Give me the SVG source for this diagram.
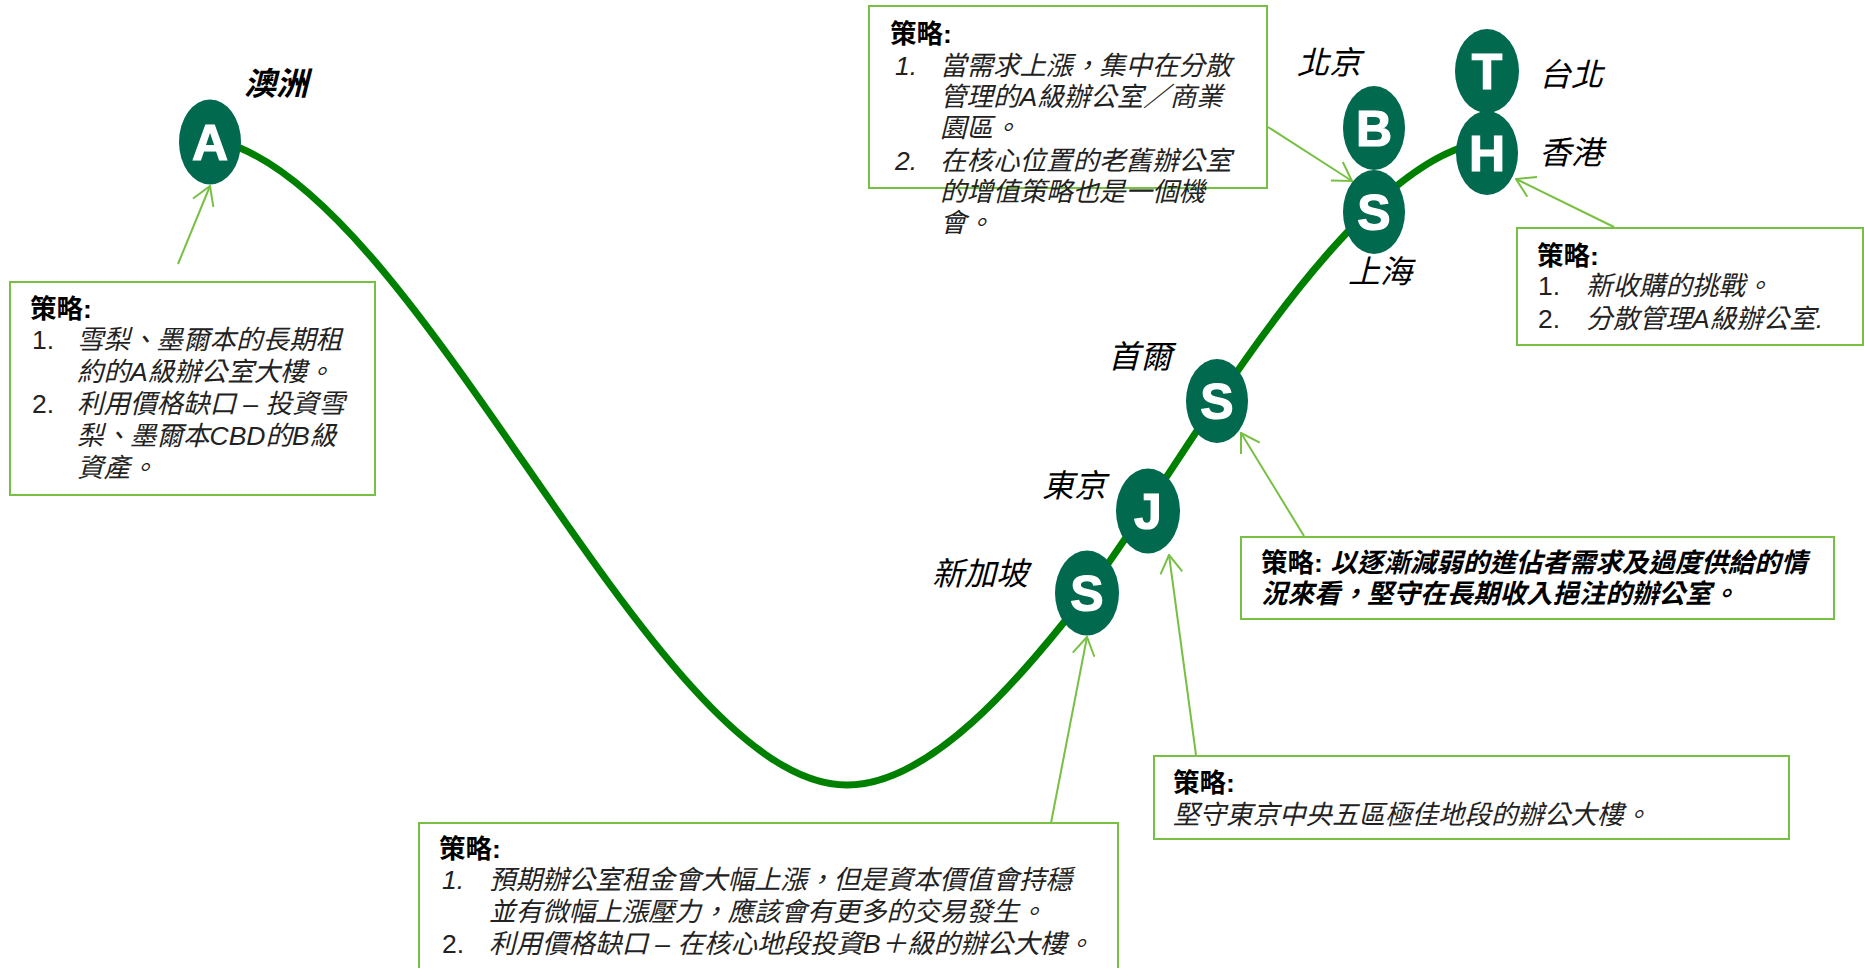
<svg xmlns="http://www.w3.org/2000/svg" width="1864" height="968" viewBox="0 0 1864 968">
<style>
.lbl{font-family:"Liberation Sans","Noto Sans CJK TC",sans-serif;font-size:32px;font-style:italic;fill:#000}
.t{font-family:"Liberation Sans","Noto Sans CJK TC",sans-serif;font-size:26.5px;fill:#222}
.it{font-style:italic}
.b{font-weight:bold;fill:#000}
.box{fill:none;stroke:#77C043;stroke-width:2}
.conn{fill:none;stroke:#77C043;stroke-width:2;marker-end:url(#ah)}
.oval{fill:#00694E}
.letter{font-family:"Liberation Sans","DejaVu Sans",sans-serif;font-weight:bold;font-size:50px;fill:#fff;stroke:#fff;stroke-width:1.2;text-anchor:middle}
.curve{fill:none;stroke:#008000;stroke-width:7;stroke-linecap:round}
</style>
<defs>
<marker id="ah" viewBox="0 0 20 24" refX="19" refY="12" markerWidth="20" markerHeight="24" markerUnits="userSpaceOnUse" orient="auto">
<path d="M1,1 L19,12 L1,23" fill="none" stroke="#77C043" stroke-width="2"/>
</marker>
</defs>
<rect width="1864" height="968" fill="#fff"/>

<g id="curve">
<path class="curve" d="M210,142 L240,148 C440,232 660,785 847,785 C930,785 1020,680 1087,593 C1130,535 1180,455 1217,401 C1270,322 1390,150 1487,142"/>
</g>

<g id="node-A"><ellipse class="oval" cx="210" cy="142" rx="31" ry="42.5"/><text class="letter" x="210" y="160">A</text><text class="lbl b" x="244" y="95">澳洲</text></g>
<g id="node-SG"><ellipse class="oval" cx="1087" cy="593" rx="32" ry="42.5"/><text class="letter" x="1087" y="611">S</text><text class="lbl" x="932" y="585">新加坡</text></g>
<g id="node-J"><ellipse class="oval" cx="1148" cy="511" rx="32" ry="42.5"/><text class="letter" x="1148" y="529">J</text><text class="lbl" x="1042" y="497">東京</text></g>
<g id="node-SE"><ellipse class="oval" cx="1217" cy="401" rx="31" ry="42"/><text class="letter" x="1217" y="419">S</text><text class="lbl" x="1108" y="368">首爾</text></g>
<g id="node-B"><ellipse class="oval" cx="1374" cy="128" rx="31" ry="42"/><text class="letter" x="1374" y="146">B</text><text class="lbl" x="1297" y="74">北京</text></g>
<g id="node-SH"><ellipse class="oval" cx="1374" cy="212" rx="31" ry="42"/><text class="letter" x="1374" y="230">S</text><text class="lbl" x="1348" y="283">上海</text></g>
<g id="node-T"><ellipse class="oval" cx="1487" cy="71" rx="32" ry="42"/><text class="letter" x="1487" y="89">T</text><text class="lbl" x="1539" y="86">台北</text></g>
<g id="node-H"><ellipse class="oval" cx="1487" cy="153" rx="31" ry="42"/><text class="letter" x="1487" y="171">H</text><text class="lbl" x="1539" y="164">香港</text></g>

<g id="box-AU">
<rect class="box" x="10" y="282" width="365" height="213"/>
<text class="t b" x="30" y="318">策略:</text>
<text class="t" x="32" y="349">1.</text><text class="t it" x="77" y="349">雪梨、墨爾本的長期租</text>
<text class="t it" x="77" y="381">約的A級辦公室大樓。</text>
<text class="t" x="32" y="413">2.</text><text class="t it" x="77" y="413">利用價格缺口 – 投資雪</text>
<text class="t it" x="77" y="445">梨、墨爾本CBD的B級</text>
<text class="t it" x="77" y="477">資產。</text>
</g>

<g id="box-CN">
<rect class="box" x="869" y="6" width="398" height="182"/>
<text class="t b" x="890" y="43">策略:</text>
<text class="t it" x="895" y="75">1.</text><text class="t it" x="940" y="75">當需求上漲，集中在分散</text>
<text class="t it" x="940" y="106">管理的A級辦公室／商業</text>
<text class="t it" x="940" y="137">園區。</text>
<text class="t it" x="895" y="170">2.</text><text class="t it" x="940" y="170">在核心位置的老舊辦公室</text>
<text class="t it" x="940" y="201">的增值策略也是一個機</text>
<text class="t it" x="940" y="232">會。</text>
</g>

<g id="box-TH">
<rect class="box" x="1517" y="228" width="346" height="117"/>
<text class="t b" x="1537" y="265">策略:</text>
<text class="t" x="1538" y="295">1.</text><text class="t it" x="1586" y="295">新收購的挑戰。</text>
<text class="t" x="1538" y="328">2.</text><text class="t it" x="1586" y="328">分散管理A級辦公室.</text>
</g>

<g id="box-SE">
<rect class="box" x="1241" y="537" width="593" height="82"/>
<text class="t b" x="1261" y="572">策略: <tspan class="it">以逐漸減弱的進佔者需求及過度供給的情</tspan></text>
<text class="t b it" x="1261" y="603">況來看，堅守在長期收入挹注的辦公室。</text>
</g>

<g id="box-JP">
<rect class="box" x="1154" y="756" width="635" height="83"/>
<text class="t b" x="1173" y="792">策略:</text>
<text class="t it" x="1173" y="824">堅守東京中央五區極佳地段的辦公大樓。</text>
</g>

<g id="box-SG">
<rect class="box" x="419" y="823" width="699" height="170"/>
<text class="t b" x="439" y="858">策略:</text>
<text class="t it" x="442" y="889">1.</text><text class="t it" x="489" y="889">預期辦公室租金會大幅上漲，但是資本價值會持穩</text>
<text class="t it" x="489" y="921">並有微幅上漲壓力，應該會有更多的交易發生。</text>
<text class="t" x="442" y="953">2.</text><text class="t it" x="489" y="953">利用價格缺口 – 在核心地段投資B＋級的辦公大樓。</text>
</g>

<g id="connectors">
<line class="conn" x1="178" y1="264" x2="210" y2="186"/>
<line class="conn" x1="1268" y1="127" x2="1352" y2="181"/>
<line class="conn" x1="1614" y1="227" x2="1516" y2="179"/>
<line class="conn" x1="1304" y1="536" x2="1241" y2="433"/>
<line class="conn" x1="1196" y1="755" x2="1169" y2="555"/>
<line class="conn" x1="1051" y1="823" x2="1087" y2="637"/>
</g>
</svg>
